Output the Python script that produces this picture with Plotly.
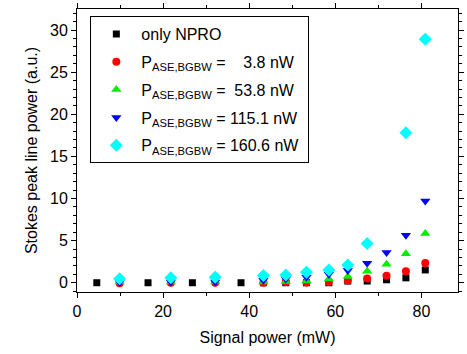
import plotly.graph_objects as go

x_npro = [4.6, 16.5, 26.8, 38.1, 43.3, 48.5, 53.3, 58.5, 62.9, 67.4, 71.9, 76.4, 80.9]
y_npro = [0.0, 0.0, 0.0, 0.0, 0.0, 0.0, 0.0, 0.0, 0.2, 0.2, 0.35, 0.58, 1.52]

x_ase = [9.9, 21.8, 32.1, 43.3, 48.5, 53.3, 58.5, 62.9, 67.4, 71.9, 76.4, 80.9]
y_38 = [-0.05, 0.0, 0.0, 0.0, 0.08, 0.04, 0.1, 0.27, 0.5, 0.82, 1.36, 2.33]
y_538 = [0.08, 0.08, 0.08, 0.1, 0.15, 0.2, 0.45, 0.75, 1.35, 2.2, 3.45, 5.85]
y_1151 = [0.05, 0.1, 0.1, 0.3, 0.45, 0.65, 1.0, 1.45, 2.3, 3.6, 5.65, 9.7]
x_1606 = [9.9, 21.8, 32.1, 43.3, 48.5, 53.3, 58.5, 62.9, 67.4, 76.4, 80.9]
y_1606 = [0.47, 0.58, 0.66, 0.85, 0.93, 1.25, 1.52, 2.1, 4.67, 17.8, 28.9]

sub = "<sub>ASE,BGBW</sub>"
names = [
    "only NPRO",
    "P" + sub + " =\u00a0\u00a0\u00a0 3.8 nW",
    "P" + sub + " =\u00a0 53.8 nW",
    "P" + sub + " = 115.1 nW\u00a0",
    "P" + sub + " = 160.6 nW\u00a0",
]

fig = go.Figure()
series = [
    (x_npro, y_npro, "black", "square", 7),
    (x_ase, y_38, "#ff0000", "circle", 8),
    (x_ase, y_538, "#00ee00", "triangle-up", 9),
    (x_ase, y_1151, "#0000ff", "triangle-down", 9),
    (x_1606, y_1606, "#00ffff", "diamond", 10),
]
for i, ((xs, ys, c, sym, sz), nm) in enumerate(zip(series, names)):
    fig.add_trace(go.Scatter(x=xs, y=ys, mode="markers", name=nm, legendgroup=f"g{i}",
                             marker=dict(color=c, symbol=sym, size=sz, line=dict(width=0))))

axis_common = dict(showgrid=False, zeroline=False, showline=True, linecolor="black",
                   linewidth=1, mirror="ticks", ticks="outside", ticklen=5,
                   tickcolor="black", tickfont=dict(size=16, color="black"))
fig.update_xaxes(range=[0, 88.5], dtick=20, tick0=0,
                 minor=dict(dtick=10, ticks="outside", ticklen=3, tickcolor="black"),
                 title=dict(text="Signal power (mW)", font=dict(size=16, color="black"), standoff=12),
                 **axis_common)
fig.update_yaxes(range=[-1.1, 32.5], dtick=5, tick0=0,
                 minor=dict(dtick=1, ticks="outside", ticklen=3, tickcolor="black"),
                 title=dict(text="Stokes peak line power (a.u.)", font=dict(size=16, color="black"), standoff=8),
                 **axis_common)
fig.update_layout(
    width=467, height=354,
    margin=dict(l=77, r=3, t=4, b=62),
    plot_bgcolor="white", paper_bgcolor="white",
    font=dict(family="Liberation Sans, Arial, sans-serif", size=16, color="black"),
    legend=dict(x=0.035, y=0.975, xanchor="left", yanchor="top",
                bordercolor="black", borderwidth=1, bgcolor="white",
                font=dict(size=16), itemsizing="trace", itemwidth=40,
                tracegroupgap=4),
    showlegend=True,
)
fig.write_html("out.html")
